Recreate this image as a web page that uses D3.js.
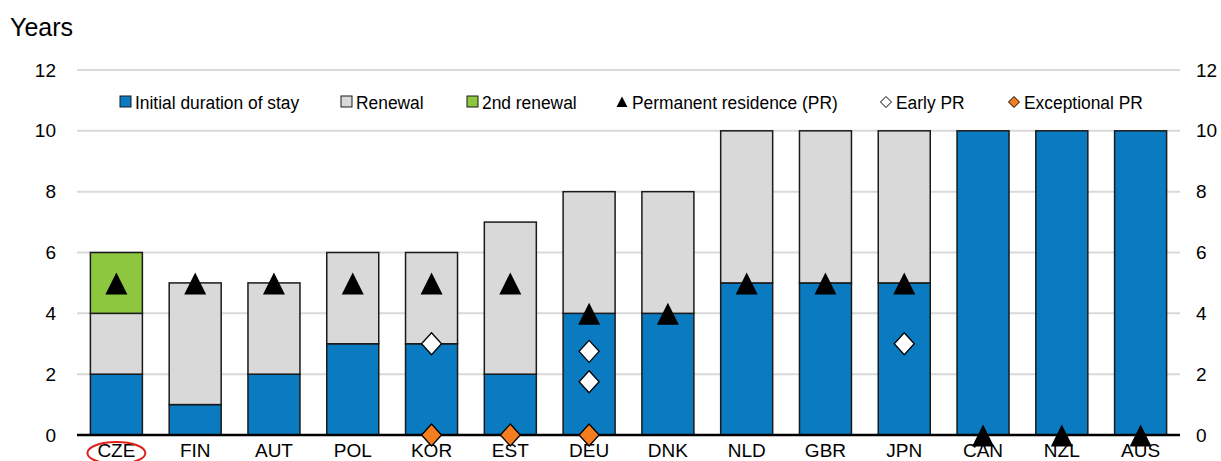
<!DOCTYPE html>
<html>
<head>
<meta charset="utf-8">
<script src="https://cdn.jsdelivr.net/npm/d3@7"></script>
<style>
  body { margin:0; background:#fff; }
  svg text { font-family: "Liberation Sans", Arial, sans-serif; fill:#000; }
</style>
</head>
<body>
<div id="chart-area"></div>
<script>
// data
const countries = ["CZE","FIN","AUT","POL","KOR","EST","DEU","DNK","NLD","GBR","JPN","CAN","NZL","AUS"];
const initialStay = [2,1,2,3,3,2,4,4,5,5,5,10,10,10];
const renewal     = [2,4,3,3,3,5,4,4,5,5,5,0,0,0];
const renewal2    = [2,0,0,0,0,0,0,0,0,0,0,0,0,0];
const permanentPR = [5,5,5,5,5,5,4,4,5,5,5,0,0,0];
const earlyPR = [ {c:"KOR", v:3}, {c:"DEU", v:2.75}, {c:"DEU", v:1.75}, {c:"JPN", v:3} ];
const exceptionalPR = [ {c:"KOR", v:0}, {c:"EST", v:0}, {c:"DEU", v:0} ];
const yTicks = [0,2,4,6,8,10,12];

const W = 1221, H = 461;
const margin = { left:77, right:41, top:70, bottom:26 };
const width = W - margin.left - margin.right,
      height = H - margin.top - margin.bottom;

const blue = "#0a7bc1", grey = "#d9d9d9", green = "#8dc63f", orange = "#f47d20";

var svg = d3.select("#chart-area")
    .append("svg")
    .attr("width", W)
    .attr("height", H);

const g = svg.append("g")
    .attr("transform", "translate(" + margin.left + "," + margin.top + ")");

const x = d3.scaleBand()
    .domain(countries)
    .range([0, width])
    .paddingInner(0.34)
    .paddingOuter(0.17);

const y = d3.scaleLinear()
    .domain([0, 12])
    .range([height, 0]);

// gridlines
g.selectAll(".grid")
    .data(yTicks.filter(d => d > 0))
    .enter().append("line")
    .attr("x1", 0).attr("x2", width)
    .attr("y1", d => y(d)).attr("y2", d => y(d))
    .attr("stroke", "#d9d9d9")
    .attr("stroke-width", 2);

// left / right axes (labels only)
const yLeft = d3.axisLeft(y).tickValues(yTicks).tickSize(0).tickPadding(21);
g.append("g").call(yLeft)
    .call(a => a.select(".domain").remove())
    .selectAll("text").attr("font-size", "19px");

const yRight = d3.axisRight(y).tickValues(yTicks).tickSize(0).tickPadding(16);
g.append("g").attr("transform", "translate(" + width + ",0)").call(yRight)
    .call(a => a.select(".domain").remove())
    .selectAll("text").attr("font-size", "19px");

// stacked bars
const rows = countries.map((c, i) => ({ c: c, a: initialStay[i], b: renewal[i], r2: renewal2[i] }));
const stack = d3.stack().keys(["a","b","r2"])(rows);
const colors = { a: blue, b: grey, r2: green };

stack.forEach(function(layer){
    g.selectAll(".bar-" + layer.key)
        .data(layer.filter(d => d[1] > d[0]))
        .enter().append("rect")
        .attr("x", d => x(d.data.c))
        .attr("y", d => y(d[1]))
        .attr("width", x.bandwidth())
        .attr("height", d => y(d[0]) - y(d[1]))
        .attr("fill", colors[layer.key])
        .attr("stroke", "#1a1a1a")
        .attr("stroke-width", 1.5);
});

// zero axis line
g.append("line")
    .attr("x1", 0).attr("x2", width)
    .attr("y1", y(0)).attr("y2", y(0))
    .attr("stroke", "#000").attr("stroke-width", 2.5);

// x labels
const xAxis = d3.axisBottom(x).tickSize(0).tickPadding(9);
g.append("g").attr("transform", "translate(0," + height + ")").call(xAxis)
    .call(a => a.select(".domain").remove())
    .selectAll("text").attr("font-size", "19px");

// markers
const cx = c => x(c) + x.bandwidth() / 2;
const tri = "M0,-10.5L11,11.5L-11,11.5Z";
const dia = "M0,-11L10,0L0,11L-10,0Z";

g.selectAll(".pr")
    .data(countries.map((c, i) => ({ c: c, v: permanentPR[i] })))
    .enter().append("path")
    .attr("d", tri)
    .attr("transform", d => "translate(" + cx(d.c) + "," + y(d.v) + ")")
    .attr("fill", "#000");

g.selectAll(".early")
    .data(earlyPR)
    .enter().append("path")
    .attr("d", dia)
    .attr("transform", d => "translate(" + cx(d.c) + "," + y(d.v) + ")")
    .attr("fill", "#fff").attr("stroke", "#000").attr("stroke-width", 1.3);

g.selectAll(".exc")
    .data(exceptionalPR)
    .enter().append("path")
    .attr("d", dia)
    .attr("transform", d => "translate(" + cx(d.c) + "," + y(d.v) + ")")
    .attr("fill", orange).attr("stroke", "#000").attr("stroke-width", 1.3);

// red ellipse around CZE
g.append("ellipse")
    .attr("cx", cx("CZE")).attr("cy", height + 18)
    .attr("rx", 29).attr("ry", 11)
    .attr("fill", "none").attr("stroke", "#e0201b").attr("stroke-width", 2);

// Years label
svg.append("text")
    .attr("x", 10).attr("y", 36)
    .attr("font-size", "25px")
    .text("Years");

// legend
const legend = svg.append("g").attr("transform", "translate(0,102)");
const items = [
    { label:"Initial duration of stay", type:"rect", fill:blue, x:120 },
    { label:"Renewal", type:"rect", fill:grey, x:341 },
    { label:"2nd renewal", type:"rect", fill:green, x:467 },
    { label:"Permanent residence (PR)", type:"tri", fill:"#000", x:617 },
    { label:"Early PR", type:"dia", fill:"#fff", x:881 },
    { label:"Exceptional PR", type:"dia", fill:orange, x:1009 }
];
items.forEach(function(it){
    const li = legend.append("g").attr("transform", "translate(" + it.x + ",0)");
    if (it.type === "rect") {
        li.append("rect").attr("x", 0).attr("y", -6).attr("width", 11).attr("height", 11)
            .attr("fill", it.fill).attr("stroke", "#1a1a1a").attr("stroke-width", 1);
    } else if (it.type === "tri") {
        li.append("path").attr("d", "M5,-5.5L10.5,5L-0.5,5Z").attr("fill", "#000");
    } else {
        li.append("path").attr("d", "M0,-5.5L5.5,0L0,5.5L-5.5,0Z")
            .attr("transform", "translate(5,0)")
            .attr("fill", it.fill).attr("stroke", "#000").attr("stroke-width", 1);
    }
    // the original uses a narrow face; squeeze the text a little
    li.append("text").attr("transform", "translate(15,7) scale(0.915,1)")
        .attr("font-size", "19px").text(it.label);
});
</script>
</body>
</html>
